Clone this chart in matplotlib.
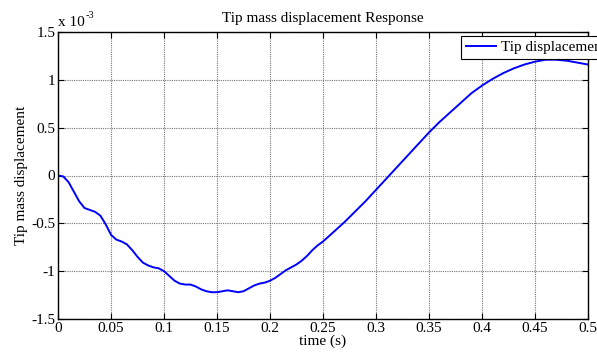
import matplotlib
matplotlib.use("Agg")
import matplotlib.pyplot as plt

# Tip displacement in units of 1e-3
time_s = [0, 0.005, 0.01, 0.015, 0.02, 0.025, 0.03, 0.035, 0.04, 0.045,
          0.05, 0.055, 0.06, 0.065, 0.07, 0.075, 0.08, 0.085, 0.09, 0.095,
          0.1, 0.105, 0.11, 0.115, 0.12, 0.125, 0.13, 0.135, 0.14, 0.145,
          0.15, 0.155, 0.16, 0.165, 0.17, 0.175, 0.18, 0.185, 0.19, 0.195,
          0.2, 0.205, 0.21, 0.215, 0.22, 0.225, 0.23, 0.235, 0.24, 0.245,
          0.25, 0.26, 0.27, 0.28, 0.29, 0.3, 0.31, 0.32, 0.33, 0.34,
          0.35, 0.36, 0.37, 0.38, 0.39, 0.4, 0.41, 0.42, 0.43, 0.44,
          0.45, 0.46, 0.47, 0.48, 0.49, 0.5]
tip_disp = [0, -0.01, -0.07, -0.17, -0.27, -0.34, -0.36, -0.38, -0.42, -0.51,
            -0.62, -0.67, -0.69, -0.72, -0.78, -0.85, -0.91, -0.94, -0.96, -0.97,
            -1.00, -1.05, -1.10, -1.13, -1.14, -1.14, -1.16, -1.19, -1.21, -1.22,
            -1.22, -1.21, -1.20, -1.21, -1.22, -1.21, -1.18, -1.15, -1.13, -1.12,
            -1.10, -1.07, -1.03, -0.99, -0.96, -0.93, -0.89, -0.84, -0.78, -0.73,
            -0.69, -0.59, -0.49, -0.38, -0.27, -0.15, -0.03, 0.09, 0.21, 0.33,
            0.45, 0.56, 0.66, 0.76, 0.86, 0.94, 1.01, 1.07, 1.12, 1.16,
            1.19, 1.21, 1.21, 1.20, 1.18, 1.16]

x_ticks = [0, 0.05, 0.1, 0.15, 0.2, 0.25, 0.3, 0.35, 0.4, 0.45, 0.5]
x_tick_labels = ["0", "0.05", "0.1", "0.15", "0.2", "0.25", "0.3", "0.35", "0.4", "0.45", "0.5"]
y_ticks = [-1.5, -1, -0.5, 0, 0.5, 1, 1.5]
y_tick_labels = ["-1.5", "-1", "-0.5", "0", "0.5", "1", "1.5"]

plt.rcParams["font.family"] = ["Liberation Serif", "DejaVu Serif"]
plt.rcParams["font.size"] = 11

fig = plt.figure(figsize=(5.97, 3.52), dpi=100)
ax = fig.add_axes([58 / 597, 33 / 352, 530 / 597, 287 / 352])

ax.plot(time_s, tip_disp, color="#0000ff", linewidth=1.4, label="Tip displacement")

ax.set_xlim(0, 0.5)
ax.set_ylim(-1.5, 1.5)
ax.set_xticks(x_ticks)
ax.set_xticklabels(x_tick_labels)
ax.set_yticks(y_ticks)
ax.set_yticklabels(y_tick_labels)
ax.tick_params(direction="in", length=4, width=0.8, top=True, right=True,
               labelsize=11, pad=2)
ax.grid(True, color="#777777", linestyle=(0, (1, 1)), linewidth=0.8)
for sp in ax.spines.values():
    sp.set_linewidth(1.0)

ax.set_title("Tip mass displacement Response", fontsize=11, pad=7)
ax.set_xlabel("time (s)", fontsize=11, labelpad=0)
ax.set_ylabel("Tip mass displacement", fontsize=11, labelpad=2)

# Exponent marker for the y scale
fig.text(58 / 597, 1 - 22 / 352, "x 10", fontsize=11, ha="left", va="center")
fig.text(86 / 597, 1 - 15 / 352, "-3", fontsize=7.5, ha="left", va="center")

leg = ax.legend(loc="upper left", bbox_to_anchor=(461 / 597, 1 - 36 / 352),
                bbox_transform=fig.transFigure, fancybox=False, framealpha=1,
                edgecolor="black", borderpad=0.3, handlelength=2.0,
                handletextpad=0.35, fontsize=11, borderaxespad=0)
leg.get_frame().set_linewidth(0.8)

fig.savefig("out.png", dpi=100)
